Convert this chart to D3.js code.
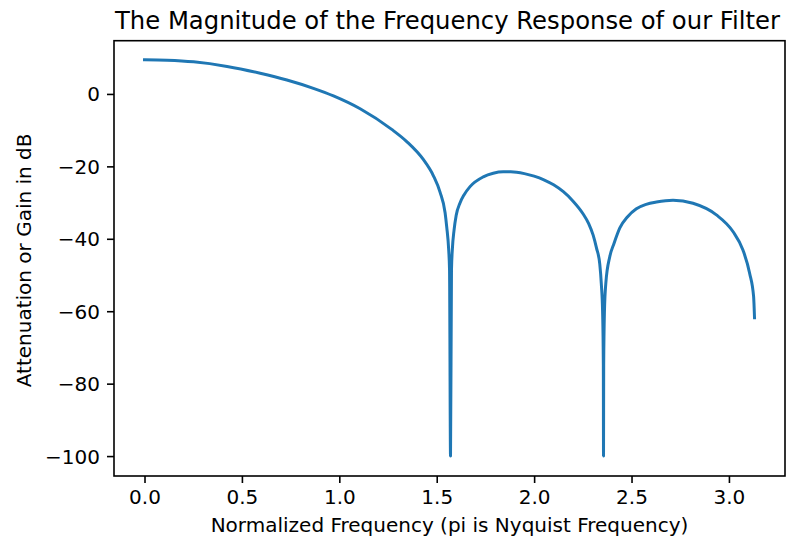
<!DOCTYPE html>
<html>
<head>
<meta charset="utf-8">
<script src="https://cdn.jsdelivr.net/npm/d3@7"></script>
<style>
  html, body { margin: 0; padding: 0; background: #ffffff; }
  svg { display: block; }
  text { font-family: "DejaVu Sans", sans-serif; fill: #000; }
</style>
</head>
<body>
<svg id="chart" width="786" height="540"></svg>
<script>
// ---- data ----
const titleText = "The Magnitude of the Frequency Response of our Filter";
const xLabelText = "Normalized Frequency (pi is Nyquist Frequency)";
const yLabelText = "Attenuation or Gain in dB";

const xTicks = [0.0, 0.5, 1.0, 1.5, 2.0, 2.5, 3.0];
const yTicks = [0, -20, -40, -60, -80, -100];

// normalized frequency (radians/sample)
const freq = [
  0.000, 0.116, 0.252, 0.424, 0.594, 0.731, 0.867, 0.970, 1.107,
  1.269, 1.346, 1.431, 1.483, 1.517, 1.543, 1.5513, 1.5615, 1.5658, 1.5708,
  1.5758, 1.5801, 1.589, 1.600, 1.6195, 1.640, 1.671, 1.739, 1.790, 1.8415,
  1.880, 1.950, 2.000, 2.050, 2.100, 2.150, 2.200, 2.250, 2.280, 2.303,
  2.320, 2.337, 2.345, 2.3514, 2.3553, 2.3562, 2.3571, 2.3610, 2.368, 2.3885,
  2.410, 2.440, 2.480, 2.525, 2.575, 2.628, 2.713, 2.8155, 2.9355, 3.0206,
  3.0719, 3.1062, 3.1267, 3.1313
];
// gain in dB
const gainDb = [
  9.46, 9.32, 8.86, 7.60, 5.72, 3.85, 1.55, -0.55, -4.10,
  -9.80, -13.15, -18.10, -22.60, -27.10, -32.80, -36.7, -43.1, -48.6, -100.0,
  -48.6, -43.0, -37.6, -33.5, -30.1, -27.9, -25.6, -22.9, -21.9, -21.5,
  -21.5, -22.0, -22.7, -23.7, -25.1, -27.0, -29.6, -33.0, -35.8, -39.0,
  -42.5, -47.0, -52.5, -60.0, -75.0, -100.0, -75.0, -60.0, -52.3, -44.9,
  -41.3, -37.0, -33.9, -31.7, -30.5, -29.85, -29.35, -30.2, -33.4, -38.0,
  -43.1, -49.5, -56.0, -61.8
];

const xDomain = [-0.1566, 3.2878];
const yDomain = [-105.5, 14.7];

// ---- layout ----
const svg = d3.select("#chart");
const plotLeft = 114, plotRight = 785, plotTop = 40.7, plotBottom = 476;

const x = d3.scaleLinear().domain(xDomain).range([plotLeft, plotRight]);
const y = d3.scaleLinear().domain(yDomain).range([plotBottom, plotTop]);

const data = freq.map((f, i) => ({ f: f, g: gainDb[i] }));

// line
const line = d3.line()
  .x(d => x(d.f))
  .y(d => y(d.g))
  .curve(d3.curveMonotoneX);

svg.append("path")
  .datum(data)
  .attr("d", line)
  .attr("fill", "none")
  .attr("stroke", "#1f77b4")
  .attr("stroke-width", 3)
  .attr("stroke-linejoin", "round")
  .attr("stroke-linecap", "square");

// axes
const fmtX = d3.format(".1f");
const fmtY = d3.format("d");

const gx = svg.append("g")
  .attr("transform", `translate(0,${plotBottom})`)
  .call(d3.axisBottom(x).tickValues(xTicks).tickFormat(fmtX)
    .tickSize(7).tickSizeOuter(0).tickPadding(7));
const gy = svg.append("g")
  .attr("transform", `translate(${plotLeft},0)`)
  .call(d3.axisLeft(y).tickValues(yTicks).tickFormat(fmtY)
    .tickSize(7).tickSizeOuter(0).tickPadding(7));

[gx, gy].forEach(g => {
  g.select(".domain").remove();
  g.selectAll(".tick line").attr("stroke", "#000").attr("stroke-width", 1.6);
  g.selectAll(".tick text")
    .attr("fill", "#000")
    .style("font-family", "'DejaVu Sans', sans-serif")
    .style("font-size", "20px");
});
gy.selectAll(".tick text").attr("dy", "0.35em");

// frame (spines)
svg.append("rect")
  .attr("x", plotLeft).attr("y", plotTop)
  .attr("width", plotRight - plotLeft).attr("height", plotBottom - plotTop)
  .attr("fill", "none")
  .attr("stroke", "#000")
  .attr("stroke-width", 1.6);

// title
svg.append("text")
  .attr("x", (plotLeft + plotRight) / 2 - 2)
  .attr("y", 28.7)
  .attr("text-anchor", "middle")
  .style("font-size", "24.3px")
  .text(titleText);

// x label
svg.append("text")
  .attr("x", (plotLeft + plotRight) / 2)
  .attr("y", 532)
  .attr("text-anchor", "middle")
  .style("font-size", "20px")
  .text(xLabelText);

// y label
svg.append("text")
  .attr("transform", `translate(30.5,${(plotTop + plotBottom) / 2 + 2}) rotate(-90)`)
  .attr("text-anchor", "middle")
  .style("font-size", "20px")
  .text(yLabelText);
</script>
</body>
</html>
